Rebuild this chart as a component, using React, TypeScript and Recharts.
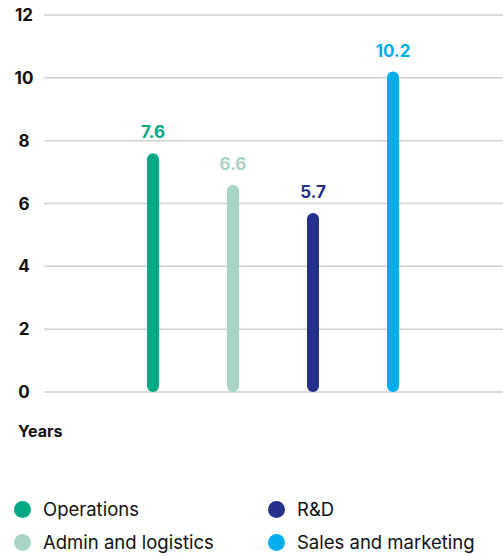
import { BarChart, Bar, XAxis, YAxis, CartesianGrid, Cell, LabelList } from 'recharts'

const categories = ['Operations', 'Admin and logistics', 'R&D', 'Sales and marketing']
const years = [7.6, 6.6, 5.7, 10.2]
const colors = ['#00a884', '#a8d5c3', '#24308a', '#00adec']
const yTicks = [0, 2, 4, 6, 8, 10, 12]
const axisTitle = 'Years'

// legend is laid out in two columns: left = Operations/Admin, right = R&D/Sales
const legendOrder = [0, 2, 1, 3]

const font = 'Inter, "Noto Sans", sans-serif'

const data = categories.map((name, i) => ({ name, value: years[i] }))

const YTick = (props: any) => {
  const { y, payload } = props
  return (
    <text x={24} y={y} dy={6} textAnchor="middle" fontSize={17} fontWeight={700} fill="#111" fontFamily={font}>
      {payload.value}
    </text>
  )
}

const ValueLabel = (props: any) => {
  const { x, y, width, index, value } = props
  return (
    <text x={x + width / 2} y={y - 15} textAnchor="middle" fontSize={17} fontWeight={700} fill={colors[index]} fontFamily={font}>
      {value}
    </text>
  )
}

export default function App() {
  return (
    <div style={{ position: 'absolute', left: 0, top: 0, width: 503, height: 556, background: '#fff', fontFamily: font }}>
      <BarChart width={503} height={412} data={data} margin={{ top: 15, right: 0, left: 0, bottom: 20 }}>
        <CartesianGrid vertical={false} stroke="#cfcfcf" strokeWidth={1.5} />
        <XAxis dataKey="name" hide padding={{ left: 69, right: 70 }} />
        <YAxis
          width={44}
          domain={[0, 12]}
          ticks={yTicks}
          axisLine={false}
          tickLine={false}
          tick={<YTick />}
          interval={0}
        />
        <Bar dataKey="value" barSize={12} radius={[6, 6, 6, 6]} isAnimationActive={false}>
          {data.map((d, i) => (
            <Cell key={d.name} fill={colors[i]} />
          ))}
          <LabelList dataKey="value" content={<ValueLabel />} />
        </Bar>
      </BarChart>

      <div style={{ position: 'absolute', left: 18, top: 421, fontSize: 16, fontWeight: 700, color: '#111' }}>
        {axisTitle}
      </div>

      <div
        style={{
          position: 'absolute',
          left: 14,
          top: 497,
          display: 'grid',
          gridTemplateColumns: '254px 240px',
          rowGap: 9,
        }}
      >
        {legendOrder.map((i) => (
          <div key={categories[i]} style={{ display: 'flex', alignItems: 'center', height: 24 }}>
            <span
              style={{
                width: 17,
                height: 17,
                borderRadius: '50%',
                background: colors[i],
                display: 'inline-block',
                marginRight: 12,
              }}
            />
            <span style={{ fontSize: 18.5, color: '#111' }}>{categories[i]}</span>
          </div>
        ))}
      </div>
    </div>
  )
}
